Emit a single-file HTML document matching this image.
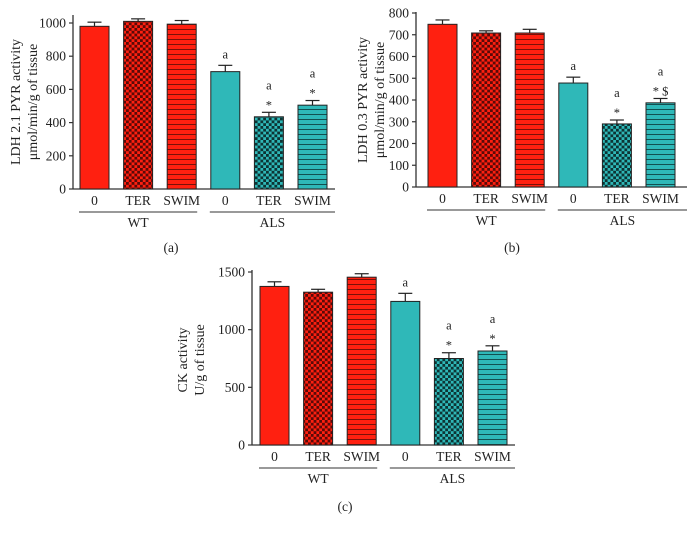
<!DOCTYPE html>
<html><head><meta charset="utf-8">
<style>
html,body{margin:0;padding:0;background:#fff;}
svg{display:block;font-family:"Liberation Serif",serif;}
</style></head>
<body>
<svg id="chart" width="692" height="533" viewBox="0 0 692 533" xmlns="http://www.w3.org/2000/svg">
<defs>
<pattern id="chkRed" width="5.6" height="5.6" patternUnits="userSpaceOnUse">
<rect width="5.6" height="5.6" fill="#ff2010"/><rect width="2.8" height="2.8" fill="#5a0a08"/><rect x="2.8" y="2.8" width="2.8" height="2.8" fill="#5a0a08"/></pattern>
<pattern id="strRed" width="5" height="5" patternUnits="userSpaceOnUse">
<rect width="5" height="5" fill="#ff2010"/><rect y="4" width="5" height="1" fill="#7a1008"/></pattern>
<pattern id="chkTeal" width="5.6" height="5.6" patternUnits="userSpaceOnUse">
<rect width="5.6" height="5.6" fill="#2fb8b8"/><rect width="2.8" height="2.8" fill="#0d3434"/><rect x="2.8" y="2.8" width="2.8" height="2.8" fill="#0d3434"/></pattern>
<pattern id="strTeal" width="5" height="5" patternUnits="userSpaceOnUse">
<rect width="5" height="5" fill="#2fb8b8"/><rect y="4" width="5" height="1" fill="#125050"/></pattern>
</defs>
</svg>
<script>
const categories = ["0","TER","SWIM","0","TER","SWIM"];
const groups = ["WT","ALS"];
const valuesA = [980,1010,993,707,435,505];
const errorsA = [25,15,22,38,27,28];
const annotA = ["","","","a","a\n*","a\n*"];
const ticksA = [0,200,400,600,800,1000];
const valuesB = [748,708,708,478,290,387];
const errorsB = [20,10,17,27,18,20];
const annotB = ["","","","a","a\n*","a\n* $"];
const ticksB = [0,100,200,300,400,500,600,700,800];
const valuesC = [1375,1325,1455,1245,750,815];
const errorsC = [40,25,30,70,50,45];
const annotC = ["","","","a","a\n*","a\n*"];
const ticksC = [0,500,1000,1500];

const fills = ["#ff2010","url(#chkRed)","url(#strRed)","#2fb8b8","url(#chkTeal)","url(#strTeal)"];
const svg = document.getElementById('chart');
const NS = "http://www.w3.org/2000/svg";
function mk(tag, attrs, parent){
  const e = document.createElementNS(NS, tag);
  for (const k in attrs) e.setAttribute(k, attrs[k]);
  (parent||svg).appendChild(e);
  return e;
}
function txt(x,y,s,size,parent,anchor){
  const t = mk('text',{x:x,y:y,'font-size':size,'text-anchor':anchor||'middle',fill:'#222'},parent);
  t.textContent = s;
  return t;
}

function panel(id, cfg, values, errors, annots, ticks){
  const g = mk('g',{});
  
  
  const y = v => cfg.y0 - (v / cfg.vmax) * (cfg.y0 - cfg.yTop);
  const x = i => cfg.x0b + i * cfg.step;
  const ax = mk('line',{x1:cfg.ax,x2:cfg.ax,y1:cfg.axTop,y2:cfg.y0,stroke:'#333','stroke-width':1.3},g);
  
  
  const xa = mk('line',{x1:cfg.ax,x2:cfg.xEnd,y1:cfg.y0,y2:cfg.y0,stroke:'#333','stroke-width':1.3},g);
  
  
  ticks.forEach(t=>{
    mk('line',{x1:cfg.ax-4,x2:cfg.ax,y1:y(t),y2:y(t),stroke:'#333','stroke-width':1.2},g);
    const tl = txt(cfg.ax-7,y(t)+4.5,String(t),13.5,g,'end');
    
    
  });
  values.forEach((v,i)=>{
    const bx = x(i), w = cfg.bw;
    const top = y(v), etop = y(v + errors[i]);
    const cx = bx + w/2;
    mk('line',{x1:cx,x2:cx,y1:etop,y2:top,stroke:'#222','stroke-width':1.2},g);
    mk('line',{x1:cx-7,x2:cx+7,y1:etop,y2:etop,stroke:'#222','stroke-width':1.2},g);
    const r = mk('rect',{x:bx,y:top,width:w,height:cfg.y0-top,fill:fills[i],stroke:'#222','stroke-width':1},g);
    
    
    const cl = txt(cx,cfg.y0+16,categories[i],13.5,g);
    
    
    const lines = annots[i] ? annots[i].split("\n") : [];
    if (lines.length === 1) {
      const a = txt(cx, etop - 7, lines[0], 12.5, g);
      
      
    } else if (lines.length === 2) {
      const b = txt(cx, etop - 3, lines[1], 12.5, g);
      
      
      const a = txt(cx, etop - 23, lines[0], 12.5, g);
      
      
    }
  });
  [[0,2],[3,5]].forEach((p,gi)=>{
    const x1 = x(p[0]) - 1, x2 = gi===1 ? cfg.xEnd : x(p[1]) + cfg.bw + 1;
    mk('line',{x1:x1,x2:x2,y1:cfg.y0+23,y2:cfg.y0+23,stroke:'#333','stroke-width':1},g);
    const gl = txt((x1+x2)/2,cfg.y0+38,groups[gi],13.5,g);
    
    
  });
  const yt = mk('text',{transform:`translate(${cfg.tx},${cfg.ty}) rotate(-90)`,'font-size':14,'text-anchor':'middle',fill:'#222'},g);
  
  
  cfg.title.forEach((s,k)=>{
    const ts = mk('tspan',{x:0,dy:k?17:0},yt);
    ts.textContent = s;
  });
  const pl = txt(cfg.labelX,cfg.labelY,'('+id+')',13.5,g);
  
  
}

panel('a',{ax:73,y0:189,yTop:23,vmax:1000,axTop:15,xEnd:335,x0b:80,step:43.6,bw:29,tx:20,ty:102,
  title:["LDH 2.1 PYR activity","\u03bcmol/min/g of tissue"],labelX:171,labelY:252},valuesA,errorsA,annotA,ticksA);
panel('b',{ax:416,y0:187,yTop:13,vmax:800,axTop:12,xEnd:687,x0b:428,step:43.6,bw:29,tx:367,ty:100,
  title:["LDH 0.3 PYR activity","\u03bcmol/min/g of tissue"],labelX:512,labelY:252},valuesB,errorsB,annotB,ticksB);
panel('c',{ax:252,y0:445,yTop:272,vmax:1500,axTop:270,xEnd:515,x0b:260,step:43.6,bw:29,tx:187,ty:360,
  title:["CK activity","U/g of tissue"],labelX:345,labelY:511},valuesC,errorsC,annotC,ticksC);
</script>
</body></html>
